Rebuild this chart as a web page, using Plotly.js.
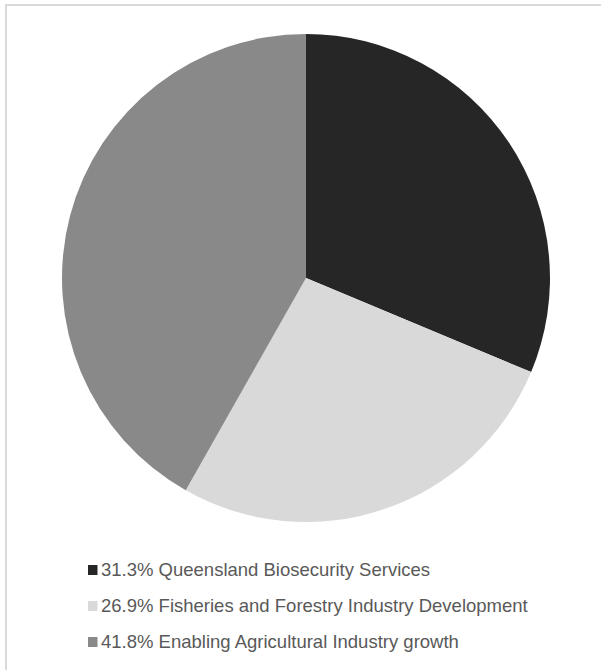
<!DOCTYPE html>
<html>
<head>
<meta charset="utf-8">
<script src="https://cdn.plot.ly/plotly-3.0.1.min.js"></script>
<style>
  html, body { margin: 0; padding: 0; background: #ffffff; }
  #chart { width: 601px; height: 670px; }
</style>
</head>
<body>
<div id="chart"></div>
<script>
// Budget share by service area (percent)
const categories = [
  "Queensland Biosecurity Services",
  "Fisheries and Forestry Industry Development",
  "Enabling Agricultural Industry growth"
];
const shares = [31.3, 26.9, 41.8];
const sliceColors = ["#262626", "#d9d9d9", "#898989"];

const W = 601, H = 670;
const px = x => x / W;          // pixel -> paper (x)
const py = y => 1 - y / H;      // pixel -> paper (y, from top)

// Pie geometry (pixels)
const cx = 306, cy = 278, r = 244;

const pie = {
  type: "pie",
  labels: categories,
  values: shares,
  sort: false,
  direction: "clockwise",
  rotation: 0,
  textinfo: "none",
  hoverinfo: "label+percent",
  marker: { colors: sliceColors, line: { width: 0 } },
  domain: { x: [px(cx - r), px(cx + r)], y: [py(cy + r), py(cy - r)] },
  showlegend: false
};

// Legend rows below the pie, built from the data arrays
const legendTop = 569, legendStep = 36;
const shapes = [
  // frame lines along the top and left edges
  { type: "line", xref: "paper", yref: "paper", x0: px(5), x1: 1, y0: py(5), y1: py(5),
    line: { color: "#d9d9d9", width: 2 } },
  { type: "line", xref: "paper", yref: "paper", x0: px(6), x1: px(6), y0: py(4), y1: 0,
    line: { color: "#d9d9d9", width: 2 } }
];
const annotations = [];
categories.forEach((name, i) => {
  const yc = legendTop + i * legendStep;
  shapes.push({
    type: "rect", xref: "paper", yref: "paper",
    x0: px(88), x1: px(97.5), y0: py(yc + 6), y1: py(yc - 4),
    fillcolor: sliceColors[i], line: { width: 0 }
  });
  annotations.push({
    xref: "paper", yref: "paper", x: px(99), y: py(yc),
    xanchor: "left", yanchor: "middle", showarrow: false,
    text: shares[i].toFixed(1) + "% " + name,
    font: { family: "Liberation Sans, Arial, sans-serif", size: 18.5, color: "#595959" }
  });
});

const layout = {
  width: W, height: H,
  margin: { l: 0, r: 0, t: 0, b: 0 },
  paper_bgcolor: "#ffffff",
  plot_bgcolor: "#ffffff",
  showlegend: false,
  shapes: shapes,
  annotations: annotations
};

Plotly.newPlot("chart", [pie], layout, { displayModeBar: false, staticPlot: true });
</script>
</body>
</html>
